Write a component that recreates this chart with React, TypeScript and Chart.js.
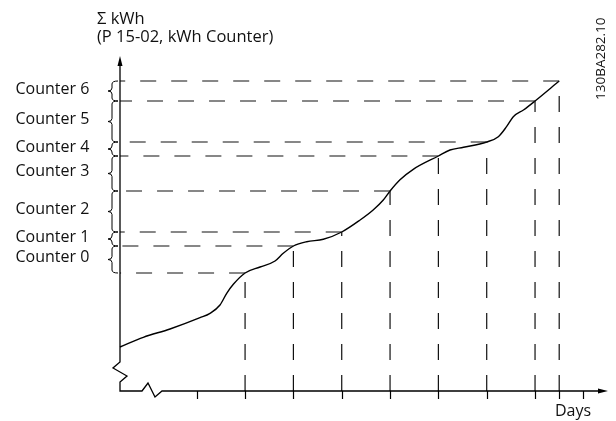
import React, { useEffect, useRef } from "react";
import { Chart, registerables } from "chart.js";

Chart.register(...registerables);

// Days at which each counter boundary is crossed (counter 0 start ... counter 6 end)
const crossingDays = [2, 3, 4, 5, 6, 7, 8, 8.5];
// Accumulated kWh at each counter boundary
const counterLevels = [118, 145, 159, 200, 235, 249, 290, 310];
const counterLabels = ["Counter 0", "Counter 1", "Counter 2", "Counter 3", "Counter 4", "Counter 5", "Counter 6"];
// Day tick positions on the time axis
const tickDays = [1, 2, 3, 4, 5, 6, 7, 8, 8.5, 9];
// Accumulated energy curve
const curveDays = [-0.588, -0.106, 0.447, 1.068, 1.275, 1.481, 1.62, 1.757, 2.0, 2.31, 2.62, 2.79, 3.0, 3.275, 3.62, 4.0, 4.38, 4.65, 4.86, 5.0, 5.2, 5.48, 6.0, 6.24, 6.52, 7.0, 7.24, 7.41, 7.55, 7.76, 8.0, 8.5];
const curveKwh = [44, 53.7, 62, 73.3, 77.7, 86, 97.7, 106.7, 118, 124, 130, 137.7, 145, 149.3, 151.7, 159, 171, 181, 191, 200, 211, 221.7, 235, 241, 243.7, 249, 254.3, 264.3, 274.3, 281, 290, 310];

const xMin = -0.588;
const xMax = 9.489;
const yMin = 0;
const yMax = 333;

const yTitle1 = "Σ kWh";
const yTitle2 = "(P 15-02, kWh Counter)";
const xTitle = "Days";
const figId = "130BA282.10";

const FONT = "'Open Sans', 'Noto Sans', sans-serif";

const diagramPlugin = {
  id: "diagram",
  afterDatasetsDraw(chart: any) {
    const ctx: CanvasRenderingContext2D = chart.ctx;
    const xs = chart.scales.x;
    const ys = chart.scales.y;
    const left = xs.getPixelForValue(xMin);
    const right = xs.getPixelForValue(xMax);
    const bottom = ys.getPixelForValue(yMin);
    const top = ys.getPixelForValue(yMax);
    ctx.save();
    ctx.strokeStyle = "#000";
    ctx.fillStyle = "#000";
    ctx.lineWidth = 1.3;
    ctx.setLineDash([]);
    ctx.lineJoin = "miter";

    // Y axis with break
    ctx.beginPath();
    ctx.moveTo(left, top + 4);
    ctx.lineTo(left, bottom - 29);
    ctx.lineTo(left - 7, bottom - 23);
    ctx.lineTo(left + 7, bottom - 15);
    ctx.lineTo(left, bottom - 9);
    ctx.lineTo(left, bottom);
    // X axis with break
    ctx.lineTo(left + 22, bottom);
    ctx.lineTo(left + 28, bottom - 8);
    ctx.lineTo(left + 35, bottom + 6);
    ctx.lineTo(left + 42, bottom);
    ctx.lineTo(right - 6, bottom);
    ctx.stroke();

    // arrowheads
    ctx.beginPath();
    ctx.moveTo(left, top - 2);
    ctx.lineTo(left - 2.5, top + 8);
    ctx.lineTo(left + 2.5, top + 8);
    ctx.closePath();
    ctx.fill();
    ctx.beginPath();
    ctx.moveTo(right + 1, bottom);
    ctx.lineTo(right - 9, bottom - 2.5);
    ctx.lineTo(right - 9, bottom + 2.5);
    ctx.closePath();
    ctx.fill();

    // ticks
    ctx.lineWidth = 1.2;
    tickDays.forEach((d) => {
      const px = Math.round(xs.getPixelForValue(d)) + 0.5;
      ctx.beginPath();
      ctx.moveTo(px, bottom);
      ctx.lineTo(px, bottom + 8);
      ctx.stroke();
    });

    // braces + labels
    ctx.lineWidth = 1;
    const bx = left - 8;
    const nub = left - 12;
    const ex = left - 2;
    for (let i = 0; i < counterLabels.length; i++) {
      const yb = ys.getPixelForValue(counterLevels[i]);
      const yt = ys.getPixelForValue(counterLevels[i + 1]);
      const mid = (yb + yt) / 2;
      ctx.beginPath();
      ctx.moveTo(ex, yt);
      ctx.quadraticCurveTo(bx, yt, bx, yt + 3);
      ctx.lineTo(bx, mid - 3);
      ctx.quadraticCurveTo(bx, mid, nub, mid);
      ctx.quadraticCurveTo(bx, mid, bx, mid + 3);
      ctx.lineTo(bx, yb - 3);
      ctx.quadraticCurveTo(bx, yb, ex, yb);
      ctx.stroke();

      ctx.font = `16px ${FONT}`;
      ctx.textAlign = "left";
      ctx.textBaseline = "alphabetic";
      ctx.fillStyle = "#111";
      ctx.fillText(counterLabels[i], 15.5, mid + 2.7);
    }

    // titles
    ctx.fillStyle = "#111";
    ctx.font = `16.5px ${FONT}`;
    ctx.textAlign = "left";
    ctx.fillText(yTitle1, left - 23, top - 34);
    ctx.fillText(yTitle2, left - 23, top - 16);
    ctx.font = `16px ${FONT}`;
    ctx.fillText(xTitle, right - 52, bottom + 25);

    // figure id (rotated)
    ctx.font = `13.5px ${FONT}`;
    ctx.translate(right - 2, 100);
    ctx.rotate(-Math.PI / 2);
    ctx.fillText(figId, 0, 0);
    ctx.restore();
  },
};

export default function App() {
  const ref = useRef<HTMLCanvasElement>(null);
  useEffect(() => {
    if (!ref.current) return;
    const dash = [16, 15];
    const datasets: any[] = [];
    counterLevels.forEach((lvl, i) => {
      datasets.push({
        data: [
          { x: crossingDays[i], y: lvl },
          { x: xMin, y: lvl },
        ],
        borderColor: "#111",
        borderWidth: 1.2,
        borderDash: dash,
        showLine: true,
        pointRadius: 0,
        tension: 0,
        clip: false,
      });
      datasets.push({
        data: [
          { x: crossingDays[i], y: yMin },
          { x: crossingDays[i], y: lvl },
        ],
        borderColor: "#111",
        borderWidth: 1.2,
        borderDash: dash,
        showLine: true,
        pointRadius: 0,
        tension: 0,
        clip: false,
      });
    });
    datasets.push({
      data: curveDays.map((d, i) => ({ x: d, y: curveKwh[i] })),
      borderColor: "#000",
      borderWidth: 1.4,
      showLine: true,
      pointRadius: 0,
      cubicInterpolationMode: "monotone",
      clip: false,
    });
    const chart = new Chart(ref.current, {
      type: "scatter",
      data: { datasets },
      options: {
        animation: false,
        responsive: false,
        events: [],
        layout: { padding: { left: 120, right: 9, top: 58, bottom: 30 } },
        plugins: { legend: { display: false }, tooltip: { enabled: false } },
        scales: {
          x: { type: "linear", min: xMin, max: xMax, display: false },
          y: { type: "linear", min: yMin, max: yMax, display: false },
        },
      },
      plugins: [diagramPlugin],
    });
    return () => chart.destroy();
  }, []);
  return (
    <div style={{ position: "absolute", left: 0, top: 0, width: 616, height: 421, background: "#fff" }}>
      <canvas ref={ref} width={616} height={421} style={{ width: 616, height: 421 }} />
    </div>
  );
}
